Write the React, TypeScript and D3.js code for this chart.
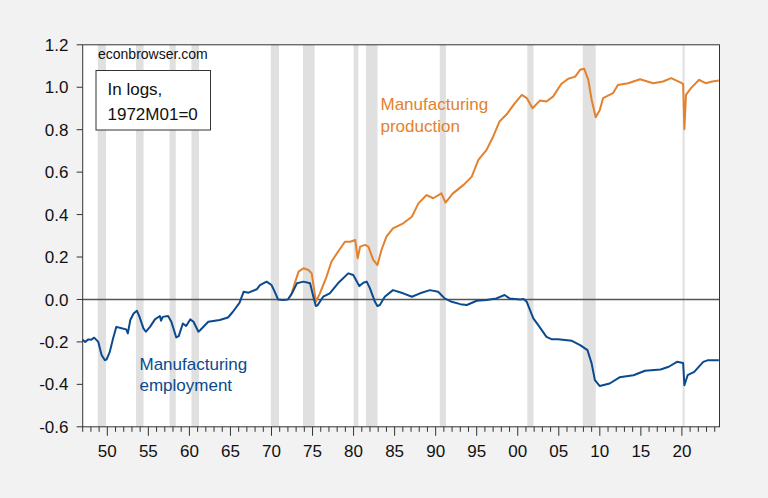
import React from "react";
import * as d3 from "d3";

// Manufacturing employment, in logs, 1972M01 = 0 (decimal year, value)
const employment: [number, number][] = [
  [1947.0, -0.19], [1947.3, -0.2], [1947.7, -0.188], [1948.0, -0.19], [1948.4, -0.18],
  [1948.9, -0.2], [1949.3, -0.262], [1949.7, -0.286], [1949.9, -0.283], [1950.3, -0.247],
  [1950.7, -0.184], [1951.1, -0.129], [1951.75, -0.136], [1952.3, -0.141], [1952.5, -0.16],
  [1952.8, -0.097], [1953.2, -0.066], [1953.6, -0.053], [1953.9, -0.08], [1954.4, -0.136],
  [1954.7, -0.152], [1955.2, -0.129], [1955.8, -0.094], [1956.4, -0.078], [1956.55, -0.1],
  [1956.75, -0.082], [1957.4, -0.078], [1957.8, -0.105], [1958.4, -0.179], [1958.7, -0.173],
  [1959.2, -0.113], [1959.6, -0.125], [1960.1, -0.094], [1960.5, -0.105], [1961.1, -0.152],
  [1961.3, -0.145], [1962.3, -0.105], [1963.7, -0.097], [1964.7, -0.085], [1965.3, -0.058],
  [1966.1, -0.016], [1966.6, 0.036], [1967.2, 0.032], [1968.2, 0.048], [1968.6, 0.068],
  [1969.4, 0.084], [1970.0, 0.068], [1970.4, 0.036], [1970.8, 0.0], [1971.4, -0.003],
  [1972.0, 0.0], [1972.5, 0.029], [1973.1, 0.076], [1973.9, 0.084], [1974.7, 0.076],
  [1975.1, 0.013], [1975.4, -0.031], [1975.6, -0.028], [1976.3, 0.013], [1977.1, 0.029],
  [1978.1, 0.076], [1979.35, 0.123], [1979.96, 0.115], [1980.3, 0.092], [1980.7, 0.063],
  [1981.2, 0.079], [1981.6, 0.084], [1982.0, 0.052], [1982.6, -0.011], [1982.9, -0.031],
  [1983.2, -0.026], [1983.8, 0.013], [1984.8, 0.044], [1986.05, 0.029], [1987.1, 0.013],
  [1988.1, 0.029], [1989.3, 0.044], [1990.3, 0.036], [1991.1, 0.005], [1991.95, -0.011],
  [1993.0, -0.022], [1993.8, -0.026], [1995.0, -0.006], [1996.2, -0.003], [1997.4, 0.005],
  [1998.4, 0.021], [1999.0, 0.005], [2000.3, 0.0], [2000.7, 0.002], [2001.1, -0.011],
  [2001.9, -0.089], [2002.5, -0.121], [2003.5, -0.176], [2004.1, -0.187], [2004.9, -0.187],
  [2006.6, -0.195], [2007.6, -0.215], [2008.5, -0.239], [2009.0, -0.301], [2009.4, -0.38],
  [2010.0, -0.408], [2011.2, -0.396], [2012.4, -0.367], [2014.1, -0.357], [2015.5, -0.336],
  [2017.4, -0.33], [2018.4, -0.317], [2019.4, -0.294], [2020.15, -0.299], [2020.3, -0.404],
  [2020.7, -0.357], [2021.5, -0.341], [2022.6, -0.294], [2023.2, -0.286], [2024.5, -0.286],
];

// Manufacturing production, in logs, 1972M01 = 0
const production: [number, number][] = [
  [1972.0, 0.0], [1972.4, 0.021], [1972.9, 0.084], [1973.3, 0.131], [1973.9, 0.147],
  [1974.5, 0.139], [1974.9, 0.123], [1975.2, 0.044], [1975.4, -0.011], [1975.9, 0.029],
  [1976.7, 0.107], [1977.3, 0.178], [1978.1, 0.225], [1978.95, 0.272], [1979.6, 0.272],
  [1980.2, 0.28], [1980.5, 0.194], [1980.8, 0.249], [1981.4, 0.257], [1981.8, 0.249],
  [1982.4, 0.186], [1982.9, 0.162], [1983.4, 0.233], [1984.0, 0.296], [1984.8, 0.335],
  [1986.05, 0.359], [1987.1, 0.39], [1987.9, 0.453], [1988.9, 0.492], [1989.7, 0.477],
  [1990.7, 0.5], [1991.2, 0.456], [1992.1, 0.5], [1993.4, 0.54], [1994.4, 0.579],
  [1995.2, 0.658], [1996.2, 0.705], [1997.0, 0.767], [1997.8, 0.84], [1998.6, 0.87],
  [1999.65, 0.925], [2000.5, 0.964], [2001.1, 0.949], [2001.8, 0.901], [2002.7, 0.937],
  [2003.5, 0.933], [2004.3, 0.956], [2005.3, 1.015], [2006.15, 1.04], [2007.0, 1.05],
  [2007.6, 1.082], [2008.1, 1.087], [2008.6, 1.035], [2009.0, 0.941], [2009.5, 0.859],
  [2010.0, 0.893], [2010.4, 0.949], [2011.6, 0.972], [2012.2, 1.011], [2013.45, 1.019],
  [2014.9, 1.038], [2016.5, 1.019], [2017.7, 1.027], [2018.7, 1.043], [2020.0, 1.019],
  [2020.15, 1.015], [2020.3, 0.802], [2020.5, 0.964], [2021.1, 0.996], [2022.1, 1.035],
  [2022.9, 1.019], [2023.7, 1.027], [2024.5, 1.032],
];

// NBER recessions: [start year, start month, end year, end month]
const recessions: [number, number, number, number][] = [
  [1948, 11, 1949, 10], [1953, 7, 1954, 5], [1957, 8, 1958, 4], [1960, 4, 1961, 2],
  [1969, 12, 1970, 11], [1973, 11, 1975, 3], [1980, 1, 1980, 7], [1981, 7, 1982, 11],
  [1990, 7, 1991, 3], [2001, 3, 2001, 11], [2007, 12, 2009, 6], [2020, 2, 2020, 4],
];

const xMajorTicks = [1950, 1955, 1960, 1965, 1970, 1975, 1980, 1985, 1990, 1995, 2000, 2005, 2010, 2015, 2020];
const yTicks = [-0.6, -0.4, -0.2, 0.0, 0.2, 0.4, 0.6, 0.8, 1.0, 1.2];

const W = 768, H = 498;
const L = 82.7, R = 719.5, T = 44.8, B = 426.8;
const FONT = "'Liberation Sans', Arial, sans-serif";
const ORANGE = "#e3812d";
const BLUE = "#0b4a8e";

export default function App() {
  const x = d3.scaleLinear().domain([1947, 2024.58]).range([L, R]);
  const y = d3.scaleLinear().domain([-0.6, 1.2]).range([B, T]);
  const line = d3.line<[number, number]>().x((d) => x(d[0])).y((d) => y(d[1]));
  const minorYears = d3.range(1947, 2025);
  const fmtY = (v: number) => d3.format(".1f")(v).replace("\u2212", "-");
  const fmtX = (yr: number) => String(yr % 100).padStart(2, "0");

  return (
    <svg width={W} height={H} style={{ position: "absolute", left: 0, top: 0, display: "block" }} fontFamily={FONT}>
      <rect x={0} y={0} width={W} height={H} fill="#f2f2f2" />
      <rect x={L} y={T} width={R - L} height={B - T} fill="#ffffff" />
      {recessions.map(([sy, sm, ey, em], i) => {
        const x0 = x(sy + (sm - 1) / 12);
        const x1 = x(ey + em / 12);
        return <rect key={i} x={x0} y={T} width={x1 - x0} height={B - T} fill="#e0e0e0" />;
      })}
      <line x1={L} x2={R} y1={y(0)} y2={y(0)} stroke="#555" strokeWidth={1.5} />
      <path d={line(production) ?? ""} fill="none" stroke={ORANGE} strokeWidth={2} strokeLinejoin="round" />
      <path d={line(employment) ?? ""} fill="none" stroke={BLUE} strokeWidth={2} strokeLinejoin="round" />
      <rect x={L} y={T} width={R - L} height={B - T} fill="none" stroke="#333" strokeWidth={1} />
      {/* y axis */}
      {yTicks.map((v) => (
        <g key={v}>
          <line x1={L - 6} x2={L} y1={y(v)} y2={y(v)} stroke="#333" />
          <text x={68.5} y={y(v)} dy="0.36em" textAnchor="end" fontSize={17} fill="#111">
            {fmtY(v)}
          </text>
        </g>
      ))}
      {/* x axis */}
      {minorYears.map((yr) => (
        <line key={yr} x1={x(yr)} x2={x(yr)} y1={B} y2={B + (yr % 5 === 0 ? 9 : 5)} stroke="#333" />
      ))}
      {xMajorTicks.map((yr) => (
        <text key={yr} x={x(yr)} y={457} textAnchor="middle" fontSize={17} fill="#111">
          {fmtX(yr)}
        </text>
      ))}
      {/* annotations */}
      <text x={98} y={58.5} fontSize={14} fill="#111">econbrowser.com</text>
      <rect x={96} y={70.5} width={114.5} height={59.5} fill="#fff" stroke="#333" strokeWidth={1} />
      <text x={107.5} y={95} fontSize={17} fill="#111">In logs,</text>
      <text x={107.5} y={119.5} fontSize={17} fill="#111">1972M01=0</text>
      <text x={380.5} y={110} fontSize={17} fill={ORANGE}>Manufacturing</text>
      <text x={380.5} y={132} fontSize={17} fill={ORANGE}>production</text>
      <text x={139.5} y={369.5} fontSize={17} fill={BLUE}>Manufacturing</text>
      <text x={139.5} y={391} fontSize={17} fill={BLUE}>employment</text>
    </svg>
  );
}
